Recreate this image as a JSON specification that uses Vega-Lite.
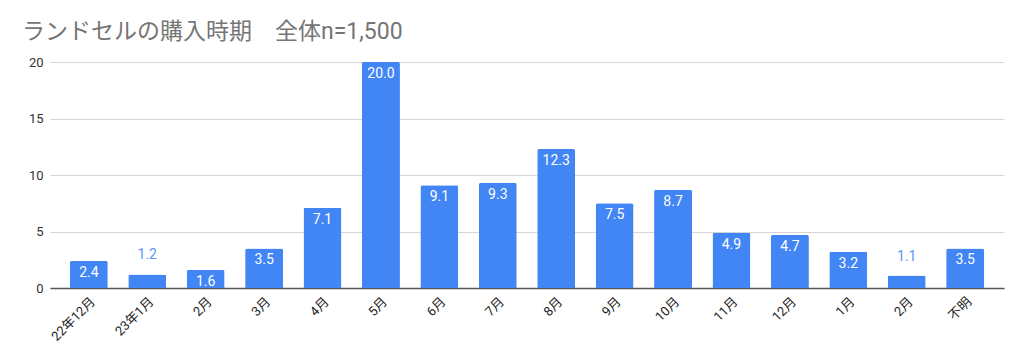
{
  "$schema": "https://vega.github.io/schema/vega-lite/v6.json",
  "width": 954,
  "height": 226,
  "autosize": {"type": "none"},
  "padding": {"left": 50, "top": 62, "right": 20, "bottom": 74},
  "background": "white",
  "title": {
    "text": "ランドセルの購入時期　全体n=1,500",
    "anchor": "start",
    "frame": "group",
    "font": "Roboto, Noto Sans CJK JP",
    "fontSize": 23,
    "fontWeight": "normal",
    "color": "#757575",
    "dx": -28,
    "offset": 12
  },
  "data": {
    "values": [
      {"month": "22年12月", "pct": 2.4},
      {"month": "23年1月", "pct": 1.2},
      {"month": "2月", "pct": 1.6},
      {"month": "3月", "pct": 3.5},
      {"month": "4月", "pct": 7.1},
      {"month": "5月", "pct": 20.0},
      {"month": "6月", "pct": 9.1},
      {"month": "7月", "pct": 9.3},
      {"month": "8月", "pct": 12.3},
      {"month": "9月", "pct": 7.5},
      {"month": "10月", "pct": 8.7},
      {"month": "11月", "pct": 4.9},
      {"month": "12月", "pct": 4.7},
      {"month": "1月", "pct": 3.2},
      {"month": "2月\u200b", "pct": 1.1},
      {"month": "不明", "pct": 3.5}
    ]
  },
  "encoding": {
    "x": {
      "field": "month",
      "type": "nominal",
      "sort": null,
      "scale": {"paddingInner": 0.35, "paddingOuter": 0.34},
      "axis": {
        "title": null,
        "labelAngle": -45,
        "labelFont": "Roboto, Noto Sans CJK JP",
        "labelFontSize": 13,
        "labelColor": "#222222",
        "ticks": false,
        "labelPadding": 7,
        "domainColor": "#555555",
        "domainWidth": 1.3,
        "grid": false
      }
    },
    "y": {
      "field": "pct",
      "type": "quantitative",
      "scale": {"domain": [0, 20]},
      "axis": {
        "title": null,
        "values": [0, 5, 10, 15, 20],
        "labelFont": "Roboto",
        "labelFontSize": 13,
        "labelColor": "#333333",
        "ticks": false,
        "domain": false,
        "labelPadding": 7,
        "gridColor": "#d6d6d6",
        "gridWidth": 1
      }
    }
  },
  "layer": [
    {
      "mark": {"type": "bar", "color": "#4285F4", "cornerRadiusTopLeft": 2, "cornerRadiusTopRight": 2}
    },
    {
      "transform": [{"filter": "datum.pct >= 1.5"}],
      "mark": {"type": "text", "baseline": "top", "dy": 5, "color": "#ffffff", "font": "Roboto", "fontSize": 14},
      "encoding": {"text": {"field": "pct", "type": "quantitative", "format": ".1f"}}
    },
    {
      "transform": [{"filter": "datum.pct < 1.5"}],
      "mark": {"type": "text", "baseline": "bottom", "dy": -12, "color": "#5b95f5", "font": "Roboto", "fontSize": 14},
      "encoding": {"text": {"field": "pct", "type": "quantitative", "format": ".1f"}}
    }
  ],
  "config": {"view": {"stroke": null}}
}
